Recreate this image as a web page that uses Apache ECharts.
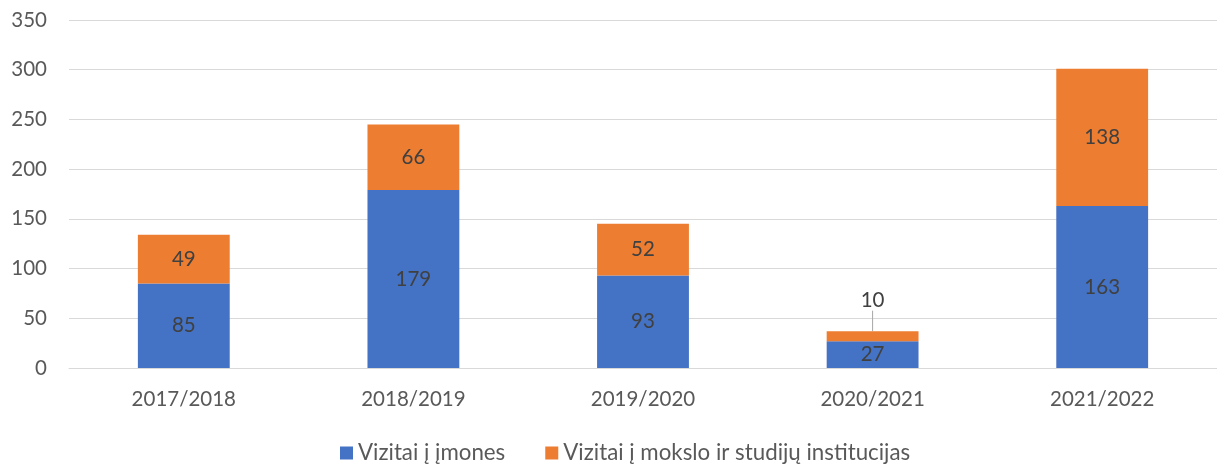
<!DOCTYPE html>
<html>
<head>
<meta charset="utf-8">
<script src="https://cdn.jsdelivr.net/npm/echarts@6/dist/echarts.min.js"></script>
<style>
html, body { margin: 0; padding: 0; background: #fff; }
#main { width: 1217px; height: 464px; }
</style>
</head>
<body>
<div id="main"></div>
<script>
// duomenys
var metai = ['2017/2018', '2018/2019', '2019/2020', '2020/2021', '2021/2022'];
var imones = [85, 179, 93, 27, 163];
var institucijos = [49, 66, 52, 10, 138];
var yTicks = [0, 50, 100, 150, 200, 250, 300, 350];

var font = 'Lato, "Open Sans", sans-serif';

var myChart = echarts.init(document.getElementById('main'));
myChart.setOption({
    animation: false,
    grid: { left: 69, top: 20, width: 1150, height: 348 },
    legend: {
        top: 437,
        left: 335,
        itemWidth: 13,
        itemHeight: 13,
        itemGap: 40,
        icon: 'rect',
        textStyle: { color: '#595959', fontSize: 22.3, fontFamily: font },
        data: ['Vizitai į įmones', 'Vizitai į mokslo ir studijų institucijas']
    },
    xAxis: {
        type: 'category',
        data: metai,
        axisTick: { show: false },
        axisLine: { lineStyle: { color: '#d9d9d9', width: 1 } },
        axisLabel: { color: '#595959', fontSize: 20.5, fontFamily: font, margin: 21 }
    },
    yAxis: {
        type: 'value',
        min: yTicks[0],
        max: yTicks[yTicks.length - 1],
        interval: 50,
        axisLine: { show: false },
        axisTick: { show: false },
        splitLine: { lineStyle: { color: '#d9d9d9', width: 1 } },
        axisLabel: { color: '#595959', fontSize: 20.5, fontFamily: font, margin: 22 }
    },
    series: [{
        name: 'Vizitai į įmones',
        type: 'bar',
        stack: 'v',
        barWidth: '40%',
        itemStyle: { color: '#4472c4' },
        label: { show: true, position: 'inside', color: '#404040', fontSize: 20.5, fontFamily: font },
        data: imones
    }, {
        name: 'Vizitai į mokslo ir studijų institucijas',
        type: 'bar',
        stack: 'v',
        barWidth: '40%',
        itemStyle: { color: '#ed7d31' },
        label: { show: true, position: 'inside', color: '#404040', fontSize: 20.5, fontFamily: font },
        labelLine: { show: true, lineStyle: { color: '#a6a6a6', width: 1 } },
        labelLayout: function (p) {
            if (p.dataIndex === 3) {
                return { dy: -36 };
            }
            return {};
        },
        data: institucijos
    }]
});
</script>
</body>
</html>
